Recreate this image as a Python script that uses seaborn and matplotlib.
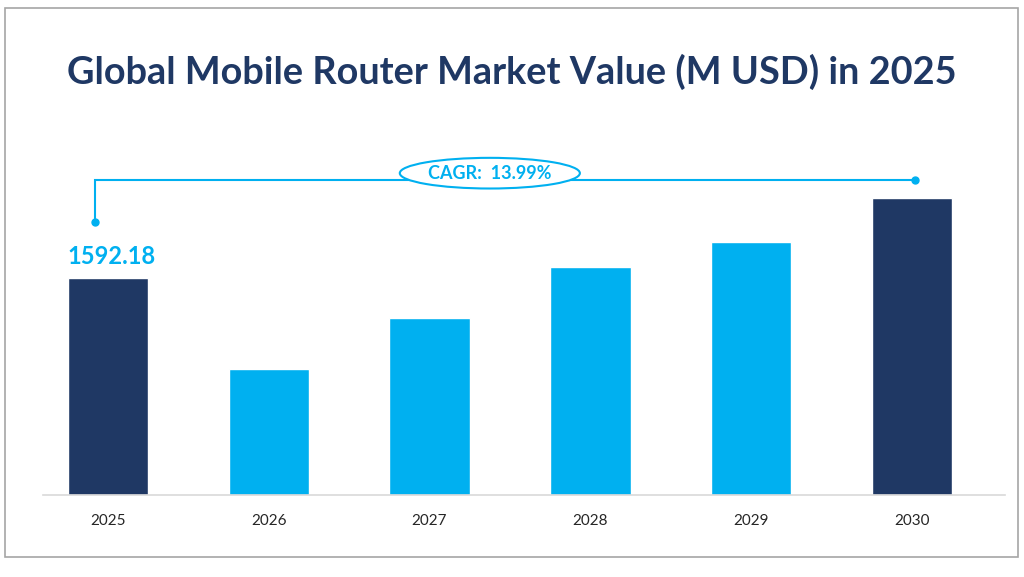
import matplotlib
matplotlib.use("Agg")
import matplotlib.pyplot as plt
import seaborn as sns
import pandas as pd
from matplotlib.patches import Ellipse, Rectangle

# data
years = ["2025", "2026", "2027", "2028", "2029", "2030"]
values = [1592.18, 925.0, 1299.0, 1673.0, 1856.0, 2179.0]
cagr_text = "CAGR:  13.99%"
title = "Global Mobile Router Market Value (M USD) in 2025"

NAVY = "#1F3864"
CYAN = "#00B0F0"
bar_colors = {y: (NAVY if y in (years[0], years[-1]) else CYAN) for y in years}

sns.set_style("white")
plt.rcParams["font.family"] = ["Lato", "DejaVu Sans"]

df = pd.DataFrame({"year": years, "value": values})

fig = plt.figure(figsize=(10.24, 5.77), dpi=100)
ax = fig.add_axes([43 / 1024, 82 / 577, 962 / 1024, 345 / 577])

sns.barplot(data=df, x="year", y="value", hue="year", palette=bar_colors,
            order=years, width=0.5, legend=False, ax=ax, saturation=1)

ax.set_xlim(-0.404, 5.579)
ax.set_ylim(0, 2531)
ax.set_xlabel("")
ax.set_ylabel("")
ax.set_yticks([])
for side in ("left", "right", "top"):
    ax.spines[side].set_visible(False)
ax.spines["bottom"].set_color("#D9D9D9")
ax.spines["bottom"].set_linewidth(1.2)
ax.tick_params(axis="x", length=0, pad=14, labelsize=11, labelcolor="#262626")

# value label on the first bar
ax.text(0 - 0.25, values[0] + 70, f"{values[0]:.2f}", color=CYAN,
        fontsize=17, fontweight="bold", ha="left", va="bottom")

# CAGR bracket
y_top = values[-1] + 132
y_left = values[0] + 411
x_left = -0.08
x_right = 5.02
ax.plot([x_left, x_left, x_right], [y_left, y_top, y_top], color=CYAN,
        lw=1.5, solid_joinstyle="miter", zorder=3)
ax.plot([x_left, x_right], [y_left, y_top], "o", color=CYAN, ms=5, zorder=4)
x_mid = 2.375
ax.add_patch(Ellipse((x_mid, y_top + 50), width=1.12, height=225,
                     facecolor="white", edgecolor=CYAN, lw=1.5, zorder=5))
ax.text(x_mid, y_top + 50, cagr_text, color=CYAN, fontsize=13,
        fontweight="bold", ha="center", va="center", zorder=6)

fig.text(0.5, 1 - 72 / 577, title, color=NAVY, fontsize=27.3,
         fontweight="bold", ha="center", va="center")

# outer frame
fig.patches.append(Rectangle((5 / 1024, 1 - 557 / 577), 1013 / 1024, 549 / 577,
                             transform=fig.transFigure, fill=False,
                             edgecolor="#A6A6A6", lw=1.2))

fig.savefig("out.png", dpi=100)
